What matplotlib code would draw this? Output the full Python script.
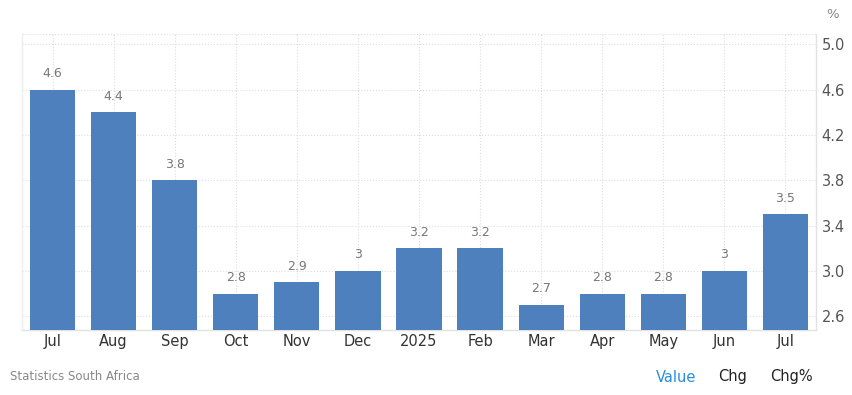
import numpy as np
import matplotlib.pyplot as plt

months = ["Jul", "Aug", "Sep", "Oct", "Nov", "Dec", "2025", "Feb", "Mar", "Apr", "May", "Jun", "Jul"]
values = [4.6, 4.4, 3.8, 2.8, 2.9, 3.0, 3.2, 3.2, 2.7, 2.8, 2.8, 3.0, 3.5]
yticks = [2.6, 3.0, 3.4, 3.8, 4.2, 4.6, 5.0]

fig = plt.figure(figsize=(8.52, 3.95), dpi=100)
ax = fig.add_axes([22/852, 65/395, (816-22)/852, (330-34)/395])

x = np.arange(len(months))
ax.bar(x, values, width=0.74, color='#4e80bd', zorder=3)
for xi, v in zip(x, values):
    ax.text(xi, v + 0.085, f"{v:g}", ha='center', va='bottom', fontsize=9, color='#777777')

ax.set_xlim(-0.5, len(months) - 0.5)
ax.set_ylim(2.48, 5.09)
ax.set_xticks(x)
ax.set_xticklabels(months, fontsize=10.5, color='#333333')
ax.set_yticks(yticks)
ax.set_yticklabels([f"{t:.1f}" for t in yticks], fontsize=10.5, color='#555555')
ax.yaxis.tick_right()
ax.tick_params(length=0)
ax.tick_params(axis='x', pad=3)
ax.tick_params(axis='y', pad=4)

ax.grid(True, linestyle=':', color='#dddddd', linewidth=0.8, zorder=0)
ax.axhline(5.09, linestyle=':', color='#dddddd', linewidth=0.8, zorder=0)
ax.spines['top'].set_visible(False)
for s in ['left', 'right', 'bottom']:
    ax.spines[s].set_color('#e2e2e2')
    ax.spines[s].set_linewidth(1)
ax.spines['left'].set_color('#eeeeee')

fig.text(826/852, 1 - 15/395, "%", fontsize=9.5, color='#888888', ha='left', va='center')
fig.text(10/852, 1 - 377/395, "Statistics South Africa", fontsize=8.5, color='#888888', va='center')
fig.text(676/852, 1 - 377/395, "Value", fontsize=10.5, color='#2a8fd8', ha='center', va='center')
fig.text(733/852, 1 - 377/395, "Chg", fontsize=10.5, color='#222222', ha='center', va='center')
fig.text(791/852, 1 - 377/395, "Chg%", fontsize=10.5, color='#222222', ha='center', va='center')

fig.savefig("out.png", dpi=100)
